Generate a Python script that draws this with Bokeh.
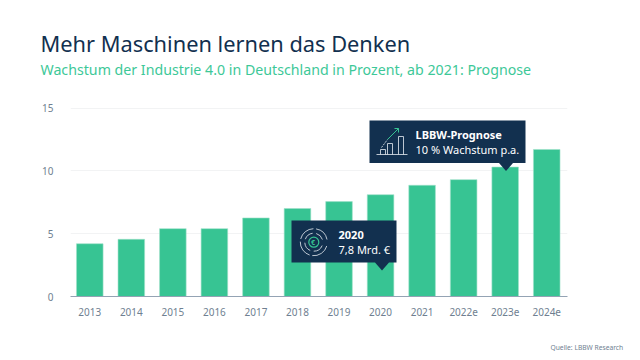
from bokeh.plotting import figure
from bokeh.embed import file_html
from bokeh.resources import INLINE
from bokeh.models import Range1d, Label, FixedTicker, Title

categories = ["2013","2014","2015","2016","2017","2018","2019","2020","2021","2022e","2023e","2024e"]
growth = [4.2,4.55,5.4,5.4,6.25,7.0,7.55,8.1,8.85,9.3,10.3,11.7]
y_ticks = [0,5,10,15]
title_text = "Mehr Maschinen lernen das Denken"
subtitle_text = "Wachstum der Industrie 4.0 in Deutschland in Prozent, ab 2021: Prognose"
source_text = "Quelle: LBBW Research"
FONT = "Noto Sans"
NAVY = "#12304f"
GREEN = "#37c493"

W, H = 640, 360
L, R, T, B = 70, 567, 107, 296  # page px of plot frame

xs = list(range(len(categories)))
p = figure(width=W, height=H, x_range=Range1d(-0.464, 11.5), y_range=Range1d(0,15.04),
           output_backend="svg", toolbar_location=None,
           min_border_left=L, min_border_right=W-R, min_border_top=T, min_border_bottom=H-B)
p.outline_line_color = None
p.background_fill_color = "white"
p.xgrid.visible = False
p.ygrid.grid_line_color = "#f2f3f4"
p.ygrid.grid_line_width = 1
p.ygrid.ticker = FixedTicker(ticks=y_ticks)
p.yaxis.ticker = FixedTicker(ticks=y_ticks)
p.yaxis.axis_line_color = None
p.yaxis.major_tick_line_color = None
p.yaxis.minor_tick_line_color = None
p.yaxis.major_label_text_font = FONT
p.yaxis.major_label_text_font_size = "10px"
p.yaxis.major_label_text_color = "#6f7f91"
p.yaxis.major_label_standoff = 11
p.xaxis.ticker = FixedTicker(ticks=xs)
p.xaxis.major_label_overrides = {i: c for i, c in enumerate(categories)}
p.xaxis.axis_line_color = "#94a3b4"
p.xaxis.axis_line_width = 1
p.xaxis.major_tick_line_color = None
p.xaxis.minor_tick_line_color = None
p.xaxis.major_label_text_font = FONT
p.xaxis.major_label_text_font_size = "10px"
p.xaxis.major_label_text_color = "#6f7f91"
p.xaxis.major_label_standoff = 5

p.vbar(x=xs, top=growth, width=0.64, fill_color=GREEN, line_color="#9fe0c9", line_width=0.6)

# overlay ranges in page pixels
p.extra_x_ranges["px"] = Range1d(L, R)
p.extra_y_ranges["py"] = Range1d(B, T)
kw = dict(x_range_name="px", y_range_name="py")

def box(l, t, r, b, tip):
    p.patch([l, r, r, tip+7, tip, tip-7, l], [t, t, b, b, b+8, b, b], fill_color=NAVY, line_color=None, **kw)

box(369, 120, 525, 162.5, 505.5)
box(291, 220, 396, 262, 381.5)

# icon: rising bars
ICON = "#e8eef2"
p.line([376, 407], [154, 154], line_color=ICON, line_width=0.8, **kw)
for l, r, t in [(380, 385, 149), (387, 392, 143), (398, 403, 136)]:
    p.line([l, l, r, r], [154, t, t, 154], line_color=ICON, line_width=0.8, **kw)
p.line([381, 387], [147, 139], line_color=ICON, line_width=0.8, line_dash="2 1", **kw)
p.line([387, 398], [139, 128], line_color=GREEN, line_width=1, **kw)
p.line([394, 398, 398], [128, 128, 132], line_color=GREEN, line_width=1, **kw)

# icon: ring
cx, cy = 313.3, 241.7
for a0, a1 in [(0.2, 1.4), (1.6, 2.9), (3.1, 4.4), (4.6, 6.0)]:
    p.arc(x=cx, y=cy, radius=13.5, start_angle=a0, end_angle=a1, line_color=ICON, line_width=0.8, **kw)
    p.arc(x=cx, y=cy, radius=9, start_angle=a0+0.1, end_angle=a1-0.1, line_color=ICON, line_width=0.8, **kw)
p.circle(x=cx, y=cy, radius=5, fill_color=None, line_color=GREEN, line_width=1.2, **kw)

def txt(x, y, s, size, color, weight="normal"):
    p.add_layout(Label(x=x-L, y=B-y, x_units="screen", y_units="screen", text=s, text_font=FONT,
                       text_font_size=f"{size}px", text_color=color, text_font_style=weight,
                       text_baseline="middle", text_align="left"))

def outer(s, size, color, place, off, standoff):
    p.add_layout(Title(text=s, text_font=FONT, text_font_size=f"{size}px", text_color=color,
                       text_font_style="normal", align="left", offset=off, standoff=standoff), place)

outer(" ", 1, "white", "above", 0, 26)
outer(subtitle_text, 14.2, "#3dc898", "above", -30, 0)
outer(title_text, 21.8, NAVY, "above", -30, 0)
outer(" ", 1, "white", "below", 0, 19)
outer(source_text, 6.7, "#6f7f91", "below", 480, 1)
txt(415, 134, "LBBW-Prognose", 11, "white", "bold")
txt(415, 148.5, "10 % Wachstum p.a.", 11, "white")
txt(338, 234, "2020", 11, "white", "bold")
txt(338, 248.5, "7,8 Mrd. €", 11, "white")
txt(310.5, 241.7, "€", 7, GREEN, "bold")

open("out.html", "w").write(file_html(p, INLINE))
